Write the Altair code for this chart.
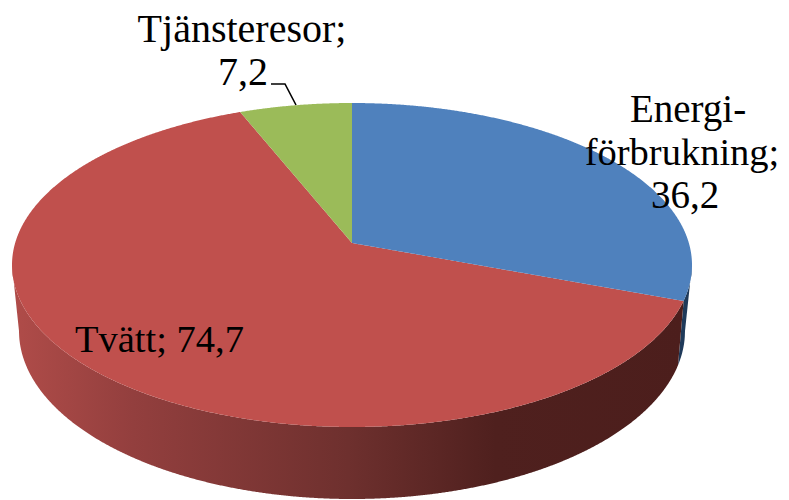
import altair as alt
import numpy as np
import pandas as pd

categories = ["Energiförbrukning", "Tvätt", "Tjänsteresor"]
values = [36.2, 74.7, 7.2]
top_colors = ["#4F81BD", "#C0504D", "#9BBB59"]
side_blue = "#1F3A5A"

total = sum(values)
a_blue = values[0] / total * 2 * np.pi
a_green = -values[2] / total * 2 * np.pi

CX, AY = 352.0, 243.0          # pie apex
RX, EY, RY = 340.0, 265.0, 162.0  # top rim ellipse
BRX, BY, BRY = 333.0, 331.0, 168.0  # bottom rim ellipse


def rim_point(a):
    """Tilted-disc perspective of the point at angle a, clockwise from north."""
    p, kx, ky = 0.136, 337.0, 159.0
    d = 1 + p * np.cos(a)
    return CX + kx * np.sin(a) / d, AY - ky * np.cos(a) / d


def grid(x0, x1, *extra):
    t = np.linspace(-np.pi / 2, np.pi / 2, 900)
    xs = CX + RX * np.sin(t)
    xs = xs[(xs >= x0) & (xs <= x1)]
    return np.unique(np.concatenate([xs, [x0, x1], np.array(extra, dtype=float)]))


def upper(x):
    return EY - RY * np.sqrt(np.clip(1 - ((x - CX) / RX) ** 2, 0, 1))


def lower(x):
    return EY + RY * np.sqrt(np.clip(1 - ((x - CX) / RX) ** 2, 0, 1))


def base(x):
    return BY + BRY * np.sqrt(np.clip(1 - ((x - CX) / BRX) ** 2, 0, 1))


bx, by = rim_point(a_blue)
gx, gy = rim_point(a_green)
L, R = CX - RX, CX + RX
BL, BR = CX - BRX, CX + BRX


def ray_blue(x):
    return AY + (by - AY) * (x - CX) / (bx - CX)


def ray_green(x):
    return AY + (gy - AY) * (x - CX) / (gx - CX)


# --- side wall ---
edge_x = 678.0
edge_y = base(np.array(edge_x))


def red_edge(x):
    return by + (edge_y - by) * (bx - x) / (bx - edge_x)


xs = grid(L, bx, BL + 0.01, edge_x)
bottom = np.where(xs < BL, EY + (BY - EY) * (xs - L) / (BL - L), np.where(xs > edge_x, red_edge(xs), base(np.minimum(xs, BR))))
side_red = pd.DataFrame({"x": xs, "y": lower(xs), "y2": bottom})

xs = grid(edge_x, R, bx, BR)
top = np.where(xs < bx, red_edge(xs), lower(xs))
bottom = np.where(xs > BR, EY + (BY - EY) * (R - xs) / (R - BR), base(np.minimum(xs, BR)))
side_b = pd.DataFrame({"x": xs, "y": top, "y2": bottom})

# --- top wedges ---
xs = grid(CX, R, bx)
wedge_blue = pd.DataFrame({"x": xs, "y": upper(xs), "y2": np.where(xs <= bx, ray_blue(xs), lower(xs))})

xs = grid(gx, CX)
wedge_green = pd.DataFrame({"x": xs, "y": upper(xs), "y2": ray_green(xs)})

xs = grid(L, bx, gx, CX)
t = np.where(xs < gx, upper(xs), np.where(xs < CX, ray_green(xs), ray_blue(xs)))
wedge_red = pd.DataFrame({"x": xs, "y": t, "y2": lower(xs)})

xscale = alt.Scale(domain=[8, 781], nice=False, zero=False)
yscale = alt.Scale(domain=[500, 8], nice=False, zero=False)
X = alt.X("x:Q", scale=xscale, axis=None)
Y = alt.Y("y:Q", scale=yscale, axis=None)
enc = dict(x=X, y=Y, y2=alt.Y2("y2:Q"))


def area(df, **kw):
    return alt.Chart(df).mark_area(orient="vertical", interpolate="linear", **kw).encode(**enc)


wall = alt.Gradient(
    gradient="linear", x1=0, x2=1, y1=0, y2=0,
    stops=[
        alt.GradientStop(offset=0.0, color="#B04C49"),
        alt.GradientStop(offset=0.18, color="#933F3E"),
        alt.GradientStop(offset=0.5, color="#6E302E"),
        alt.GradientStop(offset=0.72, color="#4F201E"),
        alt.GradientStop(offset=1.0, color="#4C1E1C"),
    ],
)

labels = pd.DataFrame({
    "x": [242, 243, 688, 682, 685, 75],
    "y": [42, 85, 122, 165, 208, 352],
    "t": ["Tjänsteresor;", "7,2", "Energi-", "förbrukning;", "36,2", "Tvätt; 74,7"],
    "a": ["center", "center", "center", "center", "center", "left"],
    "s": [40, 40, 39, 38.5, 39, 38.5],
})
leader = pd.DataFrame({"x": [271, 285, 296], "y": [84, 84, 105], "o": [0, 1, 2]})


def text(df, align):
    return alt.Chart(df).mark_text(
        font="Liberation Serif", color="#000000", align=align, baseline="alphabetic"
    ).encode(x=X, y=Y, text="t:N", size=alt.Size("s:Q", scale=None))


chart = alt.layer(
    area(side_b, color=side_blue),
    area(side_red, color=wall),
    area(wedge_red, color=top_colors[1]),
    area(wedge_blue, color=top_colors[0]),
    area(wedge_green, color=top_colors[2]),
    alt.Chart(leader).mark_line(color="#000000", strokeWidth=1.6).encode(x=X, y=Y, order="o:Q"),
    text(labels[labels.a == "center"], "center"),
    text(labels[labels.a == "left"], "left"),
).properties(
    width=773, height=492, padding=0,
    autosize=alt.AutoSizeParams(type="none"),
).configure_view(stroke=None)

chart.save("out.html", embed_options={"renderer": "svg", "actions": False})
